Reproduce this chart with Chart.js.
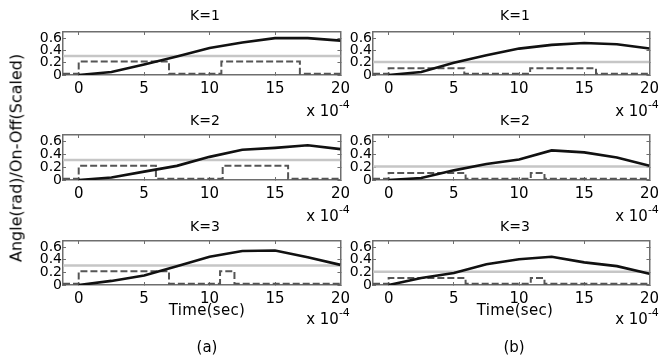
<!DOCTYPE html>
<html lang="en">
<head>
    <meta charset="UTF-8">
    <title>Angle and On-Off response, K=1..3</title>
    <script src="https://cdn.jsdelivr.net/npm/chart.js"></script>
    <style>
        body {
            margin: 0;
            width: 666px;
            height: 363px;
            overflow: hidden;
            background: #fff;
            position: relative;
            font-family: "DejaVu Sans", sans-serif;
            color: #000;
        }
        canvas { position: absolute; }
        .txt {
            position: absolute;
            white-space: nowrap;
            transform: translate(-50%, -50%);
        }
        .title { font-size: 14px; }
        .exp { font-size: 15px; }
        .exp sup { font-size: 11px; position: relative; top: -2px; }
        .xlabel { font-size: 15px; letter-spacing: 0.3px; }
        .panel { font-size: 15px; }
        .ylabel { font-size: 16px; transform: translate(-50%, -50%) rotate(-90deg); }
    </style>
</head>
<body>
    <canvas id="a1" width="358" height="81"></canvas>
    <canvas id="a2" width="358" height="83"></canvas>
    <canvas id="a3" width="358" height="82"></canvas>
    <canvas id="b1" width="357" height="81"></canvas>
    <canvas id="b2" width="357" height="83"></canvas>
    <canvas id="b3" width="357" height="82"></canvas>

    <div class="txt title" style="left:205px;top:15px">K=1</div>
    <div class="txt title" style="left:205px;top:120px">K=2</div>
    <div class="txt title" style="left:205px;top:226px">K=3</div>
    <div class="txt title" style="left:515px;top:15px">K=1</div>
    <div class="txt title" style="left:515px;top:120px">K=2</div>
    <div class="txt title" style="left:515px;top:226px">K=3</div>

    <div class="txt exp" style="left:328px;top:110px">x 10<sup>-4</sup></div>
    <div class="txt exp" style="left:328px;top:215px">x 10<sup>-4</sup></div>
    <div class="txt exp" style="left:328px;top:318px">x 10<sup>-4</sup></div>
    <div class="txt exp" style="left:637px;top:110px">x 10<sup>-4</sup></div>
    <div class="txt exp" style="left:637px;top:215px">x 10<sup>-4</sup></div>
    <div class="txt exp" style="left:637px;top:318px">x 10<sup>-4</sup></div>

    <div class="txt xlabel" style="left:207px;top:310px">Time(sec)</div>
    <div class="txt xlabel" style="left:515px;top:310px">Time(sec)</div>
    <div class="txt panel" style="left:207px;top:347px">(a)</div>
    <div class="txt panel" style="left:514px;top:347px">(b)</div>
    <div class="txt ylabel" style="left:16px;top:158px">Angle(rad)/On-Off(Scaled)</div>

    <script>
        // ticks (time axis is in units of 1e-4 s)
        const xTicks = [0, 5, 10, 15, 20];
        const yTicks = [0, 0.2, 0.4, 0.6];

        // angle curves, sampled every 2.5e-4 s
        const angleX = [0, 2.5, 5, 7.5, 10, 12.5, 15, 17.5, 20];
        const angleA1 = [0, 0.05, 0.17, 0.3, 0.44, 0.53, 0.6, 0.6, 0.56];
        const angleA2 = [0, 0.04, 0.13, 0.22, 0.36, 0.47, 0.5, 0.54, 0.48];
        const angleA3 = [0, 0.065, 0.15, 0.3, 0.45, 0.54, 0.55, 0.44, 0.32];
        const angleB1 = [0, 0.05, 0.2, 0.32, 0.43, 0.49, 0.52, 0.5, 0.43];
        const angleB2 = [0, 0.03, 0.15, 0.25, 0.32, 0.46, 0.43, 0.35, 0.22];
        const angleB3 = [0, 0.11, 0.19, 0.33, 0.41, 0.45, 0.36, 0.3, 0.18];

        // on-off switching instants and levels (step held until next instant)
        const switchA1 = [-1.2, 0, 6.9, 10.9, 16.9, 20];
        const switchA2 = [-1.2, 0, 5.9, 11, 16, 20];
        const switchA3 = [-1.2, 0, 6.9, 10.8, 11.9, 20];
        const switchB1 = [-1.2, 0, 5.8, 10.85, 15.9, 20];
        const switchB2 = [-1.2, 0, 5.9, 10.9, 11.95, 20];
        const switchB3 = [-1.2, 0, 5.9, 10.9, 11.95, 20];
        const levelA = [0.02, 0.22, 0.02, 0.22, 0.02, 0.02];
        const levelB = [0.02, 0.11, 0.02, 0.11, 0.02, 0.02];

        // reference (threshold) level
        const refA = 0.31;
        const refB = 0.21;

        const xMin = -1.2, xMax = 20, yMin = 0, yMax = 0.7;

        function pts(xs, ys) {
            return xs.map((x, i) => ({ x: x, y: ys[i] }));
        }

        function setTicks(vals) {
            return scale => { scale.ticks = vals.map(v => ({ value: v })); };
        }

        const axisGrey = "#6e6e6e";

        function makePlot(id, angle, sw, level, ref) {
            const ctx = document.getElementById(id).getContext("2d");
            const tickFont = { family: "DejaVu Sans", size: 15 };
            const yFont = { family: "DejaVu Sans", size: 14 };
            const grid = { drawOnChartArea: false, tickLength: -3, tickColor: axisGrey, lineWidth: 1 };
            const border = { color: axisGrey, width: 1.5 };
            new Chart(ctx, {
                type: "line",
                data: {
                    datasets: [{
                        data: pts(angleX, angle),
                        borderColor: "#111",
                        borderWidth: 2.6,
                        pointRadius: 0,
                        order: 1
                    }, {
                        data: pts(sw, level),
                        borderColor: "#555",
                        borderWidth: 2,
                        borderDash: [7, 3],
                        stepped: true,
                        pointRadius: 0,
                        order: 2
                    }, {
                        data: pts([xMin, xMax], [ref, ref]),
                        borderColor: "#c6c6c6",
                        borderWidth: 2.5,
                        pointRadius: 0,
                        order: 3
                    }]
                },
                options: {
                    responsive: false,
                    animation: false,
                    events: [],
                    layout: { padding: { top: 14, right: 10, left: 0, bottom: 0 } },
                    plugins: { legend: { display: false }, tooltip: { enabled: false } },
                    scales: {
                        x: {
                            type: "linear", position: "bottom", min: xMin, max: xMax,
                            afterBuildTicks: setTicks(xTicks),
                            afterFit: s => { s.height = 24; },
                            ticks: { autoSkip: false, maxRotation: 0, padding: 8, font: tickFont, color: "#000" },
                            grid: grid, border: border
                        },
                        xTop: {
                            type: "linear", position: "top", min: xMin, max: xMax,
                            afterBuildTicks: setTicks(xTicks),
                            afterFit: s => { s.height = 0; },
                            ticks: { display: false },
                            grid: grid, border: border
                        },
                        y: {
                            position: "left", min: yMin, max: yMax,
                            afterBuildTicks: setTicks(yTicks),
                            afterFit: s => { s.width = 63; },
                            ticks: {
                                autoSkip: false, padding: 4, font: yFont, color: "#000",
                                callback: v => v === 0 ? "0" : v.toFixed(1)
                            },
                            grid: grid, border: border
                        },
                        yRight: {
                            position: "right", min: yMin, max: yMax,
                            afterBuildTicks: setTicks(yTicks),
                            afterFit: s => { s.width = 0; },
                            ticks: { display: false },
                            grid: grid, border: border
                        }
                    }
                }
            });
        }

        // panel placement: canvas left/top so that the plot box lands where it should
        const boxTops = [32, 135, 241];
        const ids = [["a1", "a2", "a3"], ["b1", "b2", "b3"]];
        const lefts = [0, 310];
        ids.forEach((col, c) => col.forEach((id, r) => {
            const el = document.getElementById(id);
            el.style.left = lefts[c] + "px";
            el.style.top = (boxTops[r] - 14) + "px";
        }));

        makePlot("a1", angleA1, switchA1, levelA, refA);
        makePlot("a2", angleA2, switchA2, levelA, refA);
        makePlot("a3", angleA3, switchA3, levelA, refA);
        makePlot("b1", angleB1, switchB1, levelB, refB);
        makePlot("b2", angleB2, switchB2, levelB, refB);
        makePlot("b3", angleB3, switchB3, levelB, refB);
    </script>
</body>
</html>
